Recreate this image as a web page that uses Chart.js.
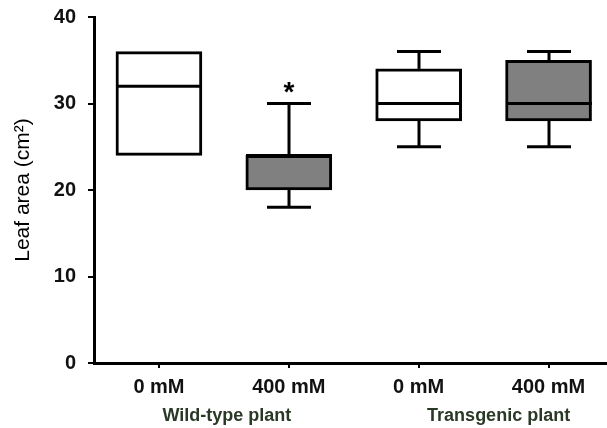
<!DOCTYPE html>
<html>
<head>
<meta charset="utf-8">
<script src="https://cdn.jsdelivr.net/npm/chart.js@4"></script>
<style>
  html, body { margin: 0; padding: 0; background: #fff; }
  #wrap { width: 607px; height: 428px; }
</style>
</head>
<body>
<div id="wrap"><canvas id="leafChart"></canvas></div>
<script>
// Data
const doses    = ['0 mM', '400 mM', '0 mM', '400 mM'];
const groups   = ['Wild-type plant', 'Transgenic plant'];
const groupOf  = [0, 0, 1, 1];
const whiskLo  = [24, 18, 25, 25];
const q1       = [24, 20, 28, 28];
const median   = [32, 24, 30, 30];
const q3       = [36, 24, 34, 35];
const whiskHi  = [36, 30, 36, 36];
const sigMarks = ['', '*', '', ''];
const boxFill  = ['#ffffff', '#808080', '#ffffff', '#808080'];
const yTicks   = [0, 10, 20, 30, 40];

const FONT = '"Liberation Sans", Arial, sans-serif';

// whiskers, medians, asterisk and group labels
const boxExtras = {
  id: 'boxExtras',
  afterDatasetsDraw(chart) {
    const ctx = chart.ctx;
    const x = chart.scales.x;
    const y = chart.scales.y;
    ctx.save();
    ctx.strokeStyle = '#000';
    ctx.lineWidth = 3;
    ctx.lineCap = 'butt';
    const line = (x1, y1, x2, y2) => {
      ctx.beginPath(); ctx.moveTo(x1, y1); ctx.lineTo(x2, y2); ctx.stroke();
    };
    doses.forEach((d, i) => {
      const cx = Math.round(x.getPixelForValue(i));
      const half = 43, cap = 22;
      // median
      const ym = y.getPixelForValue(median[i]);
      line(cx - half, ym, cx + half, ym);
      // upper whisker
      if (whiskHi[i] > q3[i]) {
        const yh = y.getPixelForValue(whiskHi[i]);
        line(cx, y.getPixelForValue(q3[i]), cx, yh);
        line(cx - cap, yh, cx + cap, yh);
      }
      // lower whisker
      if (whiskLo[i] < q1[i]) {
        const yl = y.getPixelForValue(whiskLo[i]);
        line(cx, y.getPixelForValue(q1[i]), cx, yl);
        line(cx - cap, yl, cx + cap, yl);
      }
      if (sigMarks[i]) {
        ctx.fillStyle = '#000';
        ctx.font = 'bold 28px ' + FONT;
        ctx.textAlign = 'center';
        ctx.textBaseline = 'middle';
        ctx.fillText(sigMarks[i], cx, y.getPixelForValue(whiskHi[i]) - 10);
      }
    });
    // group labels under the dose labels
    ctx.fillStyle = '#2a3826';
    ctx.font = 'bold 18px ' + FONT;
    ctx.textAlign = 'center';
    ctx.textBaseline = 'middle';
    groups.forEach((g, gi) => {
      const idx = groupOf.map((v, i) => v === gi ? i : -1).filter(i => i >= 0);
      const mid = idx.reduce((a, b) => a + b, 0) / idx.length;
      ctx.fillText(g, x.getPixelForValue(mid) + 3 + gi * 12, 416);
    });
    ctx.restore();
  }
};

new Chart(document.getElementById('leafChart'), {
  type: 'bar',
  plugins: [boxExtras],
  data: {
    datasets: [{
      data: doses.map((d, i) => ({ x: i, y: [q1[i], q3[i]] })),
      backgroundColor: boxFill,
      borderColor: '#000',
      borderWidth: 3,
      borderSkipped: false,
      barThickness: 86
    }]
  },
  options: {
    responsive: true,
    maintainAspectRatio: false,
    animation: false,
    layout: { padding: { top: 17, right: 0, left: 0, bottom: 0 } },
    plugins: {
      legend: { display: false },
      tooltip: { enabled: false }
    },
    scales: {
      x: {
        type: 'linear',
        offset: false,
        min: -0.5,
        max: 3.45,
        afterBuildTicks: (scale) => { scale.ticks = doses.map((d, i) => ({ value: i })); },
        afterFit: (scale) => { scale.height = 65; },
        border: { display: true, color: '#000', width: 3 },
        grid: { offset: false, drawOnChartArea: false, drawTicks: true, tickLength: 5, color: '#000', lineWidth: 2 },
        ticks: {
          color: '#111',
          font: { family: FONT, size: 20, weight: 'bold' },
          padding: 7,
          maxRotation: 0,
          callback: (v) => doses[v]
        }
      },
      y: {
        min: 0,
        max: 40,
        afterBuildTicks: (scale) => { scale.ticks = yTicks.map(v => ({ value: v })); },
        afterFit: (scale) => { scale.width = 94; scale.paddingTop = 0; },
        border: { display: true, color: '#000', width: 3 },
        grid: { drawOnChartArea: false, drawTicks: true, tickLength: 6, color: '#000', lineWidth: 2 },
        ticks: {
          color: '#111',
          font: { family: FONT, size: 20, weight: 'bold' },
          padding: 12
        },
        title: {
          display: true,
          text: 'Leaf area (cm²)',
          color: '#000',
          font: { family: FONT, size: 21 },
          padding: { top: 11, bottom: 0 }
        }
      }
    }
  }
});
</script>
</body>
</html>
